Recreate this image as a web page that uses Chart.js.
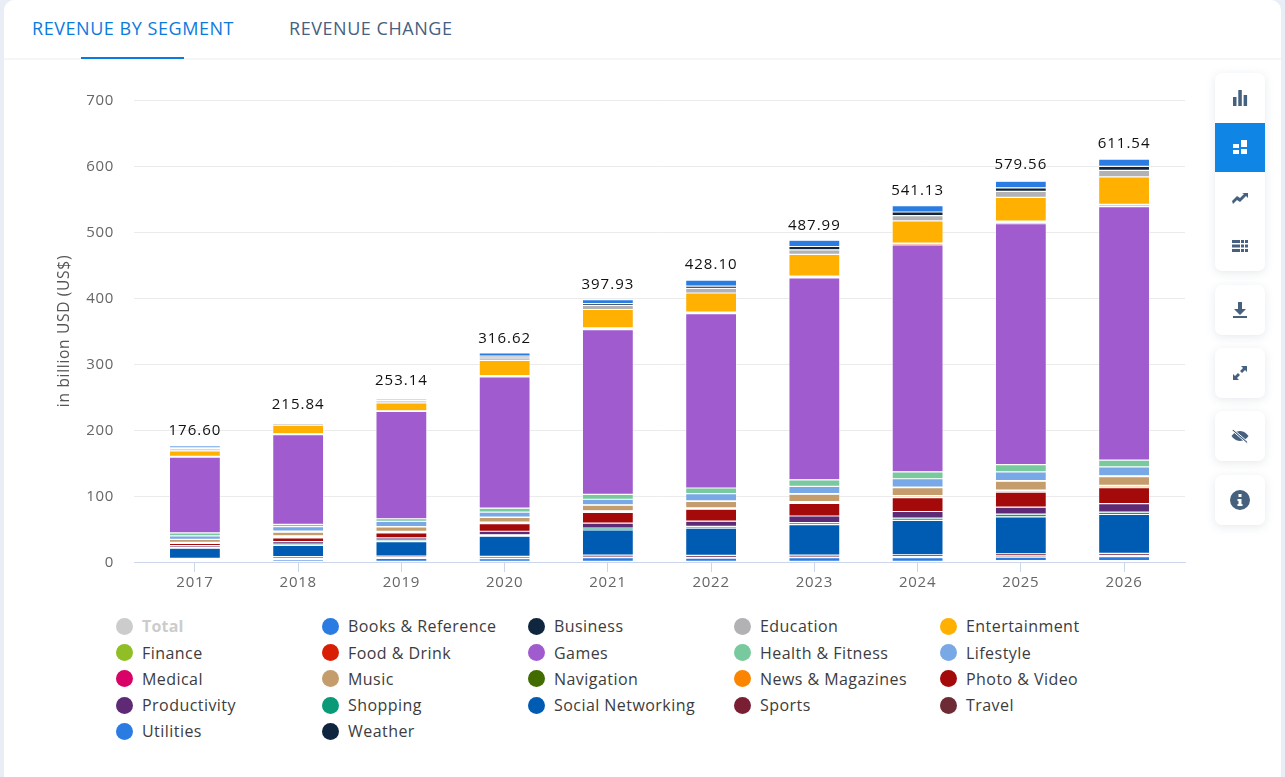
<!DOCTYPE html>
<html>
<head>
<meta charset="utf-8">
<script src="https://cdn.jsdelivr.net/npm/chart.js@4"></script>
<style>
    html, body { margin: 0; padding: 0; width: 1285px; height: 777px; overflow: hidden; background: #e9edf5; font-family: "Open Sans", sans-serif; }
    #card { position: absolute; left: 4px; top: 0; width: 1277px; height: 777px; background: #fff; border-radius: 10px 10px 0 0; }
    #tabbar { position: absolute; left: 4px; top: 0; width: 1277px; height: 58px; border-bottom: 2px solid #f5f6f8; }
    .tab { position: absolute; top: 15px; font-size: 18px; font-weight: 500; letter-spacing: 0.55px; line-height: 26px; white-space: nowrap; }
    #tab1 { left: 32px; color: #0b7ade; }
    #tab2 { left: 289px; color: #46607f; }
    #underline { position: absolute; left: 81px; top: 57px; width: 103px; height: 2px; background: #0b7ade; }
    #graph { position: absolute; left: 0; top: 0; }
    .legend-item { position: absolute; height: 20px; line-height: 20px; font-size: 16px; font-weight: 500; letter-spacing: 0.45px; color: #3c3c3e; white-space: nowrap; padding-left: 26px; }
    .legend-item i { position: absolute; left: 0; top: 1.5px; width: 17px; height: 17px; border-radius: 50%; }
    .legend-item.off { color: #cccccc; font-weight: 700; letter-spacing: 0.2px; }
    .btns { position: absolute; left: 1215px; width: 50px; background: #fff; border-radius: 7px; box-shadow: 0 2px 10px rgba(70, 96, 127, 0.14); overflow: hidden; }
    .btn { width: 50px; height: 49.5px; display: flex; align-items: center; justify-content: center; }
    .btn.on { background: #0f85e6; }
    .btn svg { width: 18px; height: 18px; fill: #46607f; }
    .btn.on svg { fill: #fff; }
</style>
</head>
<body>
<div id="card"></div>
<div id="tabbar"></div>
<div id="tab1" class="tab">REVENUE BY SEGMENT</div>
<div id="tab2" class="tab">REVENUE CHANGE</div>
<div id="underline"></div>
<canvas id="graph" width="1285" height="600"></canvas>
<div id="legend"></div>

<div class="btns" style="top:73px">
    <div class="btn"><svg viewBox="0 0 18 18"><path d="M2 8h3.500v9H2zM7.300 1h3.500v16H7.300zM12.600 6h3.500v11h-3.500z"/></svg></div>
    <div class="btn on"><svg viewBox="0 0 18 18"><path d="M2 6h6v4H2zM2 12h6v4H2zM10 2h6v7h-6zM10 11h6v5h-6z"/></svg></div>
    <div class="btn"><svg viewBox="0 0 18 18"><path d="M1 13l5-5 3 2 4-4-2-1h6v5l-2-2-6 6-3-2-4 4z"/></svg></div>
    <div class="btn"><svg viewBox="0 0 18 18"><path d="M1 3h8v3H1zM1 7.500h8v3H1zM1 12h8v3H1zM10 3h3v3h-3zM14 3h3v3h-3zM10 7.500h3v3h-3zM14 7.500h3v3h-3zM10 12h3v3h-3zM14 12h3v3h-3z"/></svg></div>
</div>
<div class="btns" style="top:285px"><div class="btn"><svg viewBox="0 0 18 18"><path d="M7 1h4v7h4l-6 6-6-6h4zM2 15h14v2H2z"/></svg></div></div>
<div class="btns" style="top:348px"><div class="btn"><svg viewBox="0 0 18 18"><path d="M10 2h6v6l-2-2-3 3-2-2 3-3zM2 16v-6l2 2 3-3 2 2-3 3 2 2z"/></svg></div></div>
<div class="btns" style="top:411px"><div class="btn"><svg viewBox="0 0 18 18"><path d="M9 4c4 0 7 3 8.500 5-1.500 2-4.500 5-8.500 5s-7-3-8.500-5C2 7 5 4 9 4z"/><path d="M2 2l15 13-1 1.500L1 3.500z" stroke="#fff" stroke-width="1"/></svg></div></div>
<div class="btns" style="top:475px"><div class="btn"><svg viewBox="0 0 20 20" style="width:20px;height:20px"><path fill-rule="evenodd" d="M10 0a10 10 0 1 1 0 20a10 10 0 0 1 0-20zM8.500 4v3h3V4zM7.500 9v2h1v3h-1v2h5v-2h-1V9z"/></svg></div></div>

<script>
// values, in billion USD
const years = [2017, 2018, 2019, 2020, 2021, 2022, 2023, 2024, 2025, 2026];
const totals = [176.60, 215.84, 253.14, 316.62, 397.93, 428.10, 487.99, 541.13, 579.56, 611.54];

const booksReference = [3, 1.5, 2.5, 5, 6, 9, 9.5, 9.5, 10, 11];
const business = [1.5, 1, 1.5, 2.5, 3, 3.5, 5, 5.5, 5.5, 6];
const education = [3, 2.5, 3, 4, 6, 7, 7, 8, 9, 10];
const entertainment = [8.5, 13, 12, 23, 28, 29, 33, 33.5, 36, 41.7];
const finance = [0.5, 0.6, 0.5, 0.8, 1, 1, 1, 1, 2, 1];
const foodDrink = [0.5, 0.6, 0.5, 1, 1.5, 1.5, 1.5, 2, 2, 2.3];
const games = [115, 136, 162.5, 199, 249.5, 264, 306, 343.7, 365, 384];
const healthFitness = [4.5, 3.3, 4, 6, 7.5, 8.5, 10, 10.5, 11, 10.5];
const lifestyle = [5, 7, 8, 7.5, 8.5, 11, 11, 12.5, 13, 13.5];
const medical = [0.4, 1.5, 0.5, 0.5, 0.6, 0.7, 0.8, 0.9, 1, 1];
const music = [4.5, 5.6, 6.5, 7, 8.5, 10, 11, 12, 13.5, 13.5];
const navigation = [0.6, 1.4, 1, 1, 1, 1, 1, 1, 1, 1];
const newsMagazines = [0.9, 1.6, 1.5, 1.5, 1.5, 1, 2, 2.2, 2, 2.5];
const photoVideo = [3.2, 5.6, 7.5, 11.5, 16, 18, 19, 21, 23, 24];
const productivity = [2.6, 3.8, 3.5, 5.5, 7.5, 8, 10, 10, 10.5, 13];
const shopping = [1.4, 2.2, 2, 2, 3, 2.5, 3, 3.5, 4, 3.5];
const socialNetworking = [15.5, 17, 22, 30.6, 38, 41.4, 46.2, 52, 56, 59];
const sports = [1.5, 2.5, 2.5, 2.5, 3, 3, 3, 3, 3, 3];
const travel = [1.4, 1.5, 1, 1, 1, 1, 1, 1.5, 2, 2];
const utilities = [1.5, 2.5, 4.5, 4, 5.5, 5, 5.5, 5.5, 5.5, 6];
const weather = [1, 1.5, 1, 1, 1, 1, 1, 1, 2, 2];

const segmentNames = ['Books & Reference', 'Business', 'Education', 'Entertainment', 'Finance', 'Food & Drink', 'Games',
    'Health & Fitness', 'Lifestyle', 'Medical', 'Music', 'Navigation', 'News & Magazines', 'Photo & Video',
    'Productivity', 'Shopping', 'Social Networking', 'Sports', 'Travel', 'Utilities', 'Weather'];
const segmentValues = [booksReference, business, education, entertainment, finance, foodDrink, games,
    healthFitness, lifestyle, medical, music, navigation, newsMagazines, photoVideo,
    productivity, shopping, socialNetworking, sports, travel, utilities, weather];
const segmentColors = ['#2a7be2', '#10263f', '#b2b2b4', '#ffb000', '#8fbe25', '#d81e05', '#a05bcf',
    '#79c99e', '#78a8e6', '#d90368', '#c59d6d', '#426b00', '#fb8500', '#a40a0a',
    '#5e2a75', '#0a9a78', '#005cb2', '#7a1f33', '#6d2c35', '#2a7be2', '#10263f'];

// the source text is slightly letter-spaced
const spacedText = {
    id: 'spacedText',
    beforeDraw(chart) {
        chart.ctx.letterSpacing = '0.7px';
    }
};

// stack labels sit above the published total of each year
const totalLabels = {
    id: 'totalLabels',
    afterDatasetsDraw(chart) {
        const ctx = chart.ctx;
        ctx.save();
        ctx.font = '500 15px "Open Sans"';
        ctx.letterSpacing = '1px';
        ctx.fillStyle = '#111';
        ctx.textAlign = 'center';
        ctx.textBaseline = 'middle';
        years.forEach(function (year, i) {
            ctx.fillText(totals[i].toFixed(2), chart.scales.x.getPixelForValue(year), chart.scales.y.getPixelForValue(totals[i]) - 14.5);
        });
        ctx.restore();
    }
};

// first dataset is drawn at the bottom of the stack, so go from the last legend entry up
const datasets = segmentNames.map(function (name, i) {
    return {
        label: name,
        data: years.map(function (year, j) {
            return {x: year, y: segmentValues[i][j]};
        }),
        backgroundColor: segmentColors[i],
        borderColor: '#fff',
        borderWidth: 0.6,
        borderSkipped: false,
        inflateAmount: 0,
        barThickness: 51
    };
}).reverse();

new Chart(document.getElementById('graph').getContext('2d'), {
    type: 'bar',
    data: {datasets: datasets},
    plugins: [spacedText, totalLabels],
    options: {
        responsive: false,
        animation: false,
        layout: {padding: {left: 55, right: 100, top: 100, bottom: 0}},
        plugins: {legend: {display: false}, tooltip: {enabled: false}},
        scales: {
            x: {
                type: 'linear',
                stacked: true,
                offset: false,
                min: 2016.41,
                max: 2026.59,
                afterFit: function (scale) { scale.height = 38; },
                border: {color: '#ccd6eb', width: 1},
                grid: {offset: false, drawOnChartArea: false, drawTicks: true, tickLength: 10, tickColor: '#ccd6eb'},
                ticks: {
                    stepSize: 1,
                    includeBounds: false,
                    maxRotation: 0,
                    autoSkip: false,
                    padding: 2,
                    color: '#666',
                    font: {family: 'Open Sans', size: 15},
                    callback: function (value) { return String(value); }
                }
            },
            y: {
                stacked: true,
                min: 0,
                max: 700,
                afterFit: function (scale) { scale.width = 79; },
                border: {display: false},
                grid: {color: '#ebebeb', drawTicks: false},
                ticks: {stepSize: 100, padding: 20, labelOffset: 1, color: '#666', font: {family: 'Open Sans', size: 15}},
                title: {
                    display: true,
                    text: 'in billion USD (US$)',
                    color: '#555',
                    padding: 0,
                    font: {family: 'Open Sans', size: 15.5}
                }
            }
        }
    }
});

// legend: the Total entry is switched off in the source, then five columns of segments
const legendNames = ['Total'].concat(segmentNames);
const legendColors = ['#cccccc'].concat(segmentColors);
const legendEl = document.getElementById('legend');
legendNames.forEach(function (name, i) {
    const item = document.createElement('div');
    item.className = 'legend-item' + (i === 0 ? ' off' : '');
    item.style.left = (116 + (i % 5) * 206) + 'px';
    item.style.top = (616.4 + Math.floor(i / 5) * 26.2) + 'px';
    item.innerHTML = '<i style="background:' + legendColors[i] + '"></i>';
    item.appendChild(document.createTextNode(name));
    legendEl.appendChild(item);
});
</script>
</body>
</html>
